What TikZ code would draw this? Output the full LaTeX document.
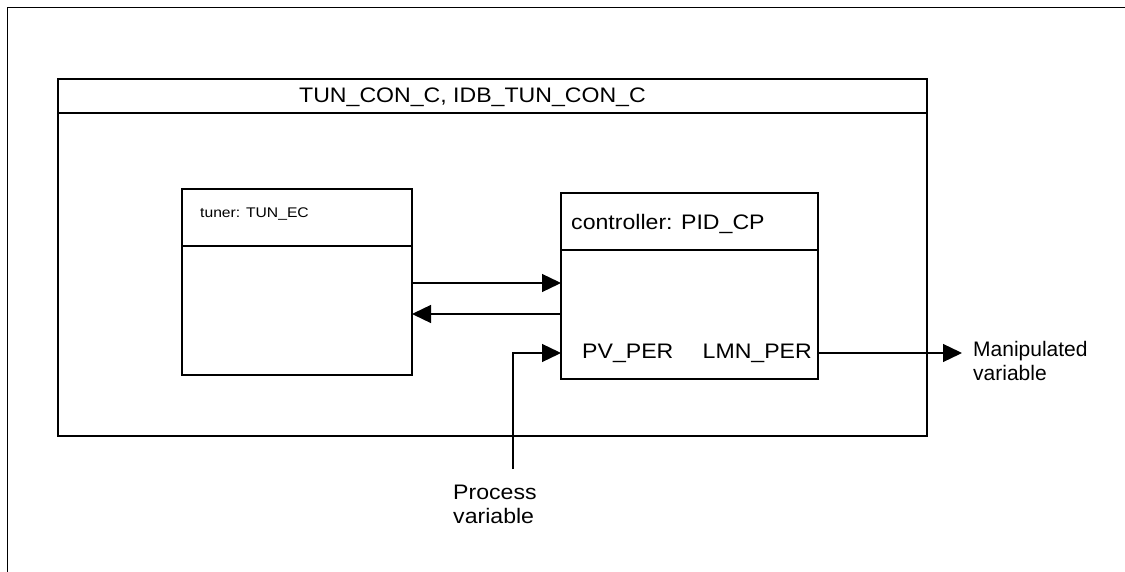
\documentclass[tikz,border=0pt]{standalone}
\usepackage{fontspec}
\setmainfont{Liberation Sans}
\newfontfamily\labelfont[FakeStretch=1.1]{Liberation Sans}
\newfontfamily\tunerfont[FakeStretch=1.12]{Liberation Sans}
\usetikzlibrary{arrows.meta}
\begin{document}
\begin{tikzpicture}[x=1pt,y=-1pt,
  box/.style={draw, line width=1.6pt, anchor=north west, inner sep=0pt, outer sep=0pt},
  sep/.style={line width=1.6pt},
  arr/.style={line width=1.3pt, -{Triangle[length=19pt,width=18pt]}},
  lbl/.style={font=\labelfont\fontsize{21}{24}\selectfont, inner sep=0pt},
  sig/.style={font=\fontsize{21}{24}\selectfont, inner sep=0pt},
  small/.style={font=\tunerfont\fontsize{14}{16}\selectfont, inner sep=0pt}]
\useasboundingbox (0,0) rectangle (1125,572);

% outer frame (open to the right and bottom)
\draw[line width=1.6pt] (7.5,590) -- (7.5,7.5) -- (1140,7.5);

% enclosing system block
\node[box, minimum width=869pt, minimum height=357pt] (sys) at (58,79) {};
\draw[sep] (sys.west |- 0,113) -- (sys.east |- 0,113);
\node[lbl, anchor=base west] (title) at (299,103) {TUN\_CON\_C, IDB\_TUN\_CON\_C};

% tuner block
\node[box, minimum width=230pt, minimum height=186pt] (tuner) at (182,189) {};
\draw[sep] (tuner.west |- 0,246) -- (tuner.east |- 0,246);
\node[small, anchor=base west] (tunerlbl) at (200,218) {tuner: TUN\_EC};

% controller block
\node[box, minimum width=257pt, minimum height=186pt] (ctrl) at (561,193) {};
\draw[sep] (ctrl.west |- 0,250) -- (ctrl.east |- 0,250);
\node[lbl, anchor=base west] (ctrllbl) at (571,230) {controller: PID\_CP};
\node[lbl, anchor=base west] (pvper) at (582,358) {PV\_PER};
\node[lbl, anchor=base east] (lmnper) at (812,358) {LMN\_PER};

% signal rows
\coordinate (r1) at (0,283);
\coordinate (r2) at (0,314);
\coordinate (r3) at (0,353);
\coordinate (pvfoot) at (513,469);
\coordinate (mvend) at (962,353);

\draw[arr] (tuner.east |- r1) -- (ctrl.west |- r1);
\draw[arr] (ctrl.west |- r2) -- (tuner.east |- r2);
\draw[arr] (pvfoot) |- (ctrl.west |- r3);
\draw[arr] (ctrl.east |- r3) -- (mvend);

% external signal labels
\node[sig, align=left, anchor=north west] (mv) at (973,341) {Manipulated\\variable};
\node[lbl, align=left, anchor=north west] (pv) at (453,485) {Process\\variable};
\end{tikzpicture}
\end{document}
